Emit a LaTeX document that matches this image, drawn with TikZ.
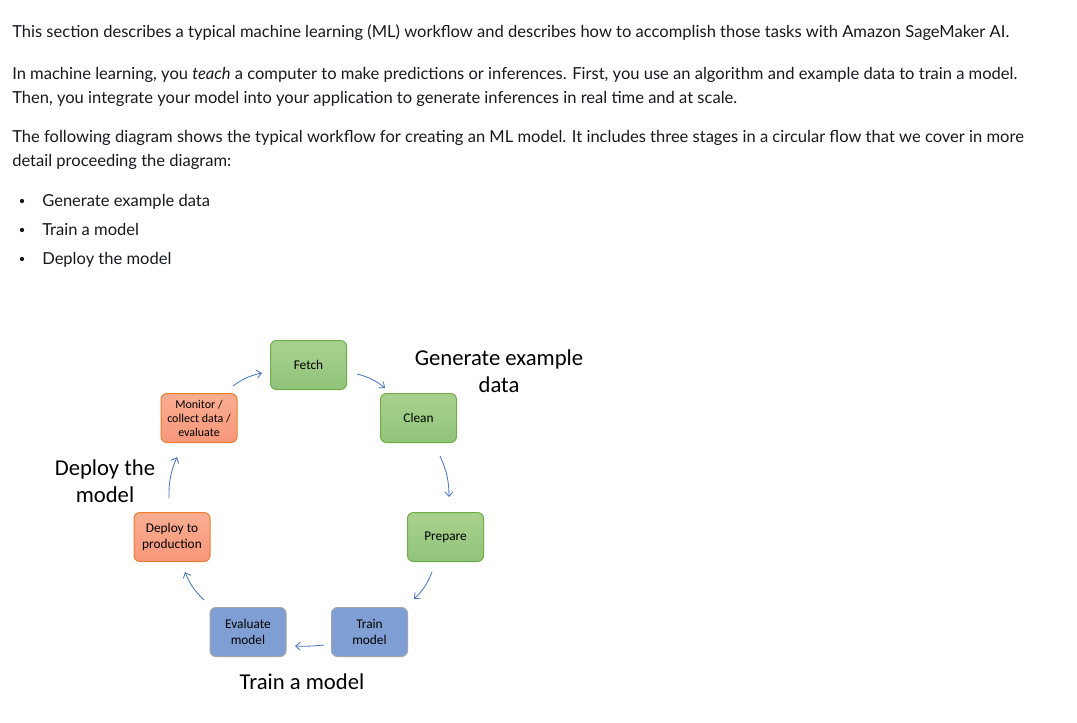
\documentclass[tikz,border=0pt]{standalone}
\usepackage{fontspec}
\setmainfont{Lato}
\newfontfamily\diagfont{Carlito}
\usetikzlibrary{arrows.meta,shapes.misc}
\definecolor{txt}{HTML}{16191F}
\definecolor{arrowblue}{HTML}{4472C4}
\definecolor{gtop}{HTML}{A9D18E}
\definecolor{gbot}{HTML}{90C47A}
\definecolor{gdraw}{HTML}{70AD47}
\definecolor{otop}{HTML}{F9AD91}
\definecolor{obot}{HTML}{F8977A}
\definecolor{odraw}{HTML}{ED7D31}
\definecolor{bfill}{HTML}{7F9FD4}
\definecolor{bdraw}{HTML}{A0A5AE}
\begin{document}
\begin{tikzpicture}[x=0.75pt,y=-0.75pt,
  para/.style={anchor=base west,inner sep=0pt,text=txt,font=\fontsize{12.4}{14}\selectfont},
  bulletdot/.style={circle,fill=txt,inner sep=0pt,minimum size=3.2pt},
  stepbox/.style={rounded corners=4.5pt,minimum width=57pt,minimum height=36.75pt,
    align=center,inner sep=1pt,font=\diagfont\fontsize{10}{11.5}\selectfont,text=black,line width=0.75pt},
  smalltext/.style={font=\diagfont\fontsize{9}{10.5}\selectfont},
  greenbox/.style={stepbox,draw=gdraw,top color=gtop,bottom color=gbot},
  orangebox/.style={stepbox,draw=odraw,top color=otop,bottom color=obot},
  bluebox/.style={stepbox,draw=bdraw,fill=bfill},
  stage/.style={align=center,font=\diagfont\fontsize{17}{20.5}\selectfont,text=black,inner sep=0pt},
  flow/.style={draw=arrowblue,line width=0.6pt,-{Straight Barb[length=3.5pt,width=6pt]},bend left=12}
]
\path[fill=white,use as bounding box] (0,0) rectangle (1077,722);

\node[para] (p1) at (12,37) {This section describes a typical machine learning (ML) workflow and describes how to accomplish those tasks with Amazon SageMaker AI.};
\node[para] (p2) at (12,79) {In machine learning, you \textit{teach} a computer to make predictions or inferences. First, you use an algorithm and example data to train a model.};
\node[para] (p3) at (12,103) {Then, you integrate your model into your application to generate inferences in real time and at scale.};
\node[para] (p4) at (12,142) {The following diagram shows the typical workflow for creating an ML model. It includes three stages in a circular flow that we cover in more};
\node[para] (p5) at (12,166) {detail proceeding the diagram:};
\node[bulletdot] (b1) at (22,201) {};
\node[para] (l1) at (42,206) {Generate example data};
\node[bulletdot] (b2) at (22,230) {};
\node[para] (l2) at (42,235) {Train a model};
\node[bulletdot] (b3) at (22,259) {};
\node[para] (l3) at (42,264) {Deploy the model};

\node[greenbox] (fetch) at (308.5,365) {Fetch};
\node[greenbox] (clean) at (418.5,418) {Clean};
\node[greenbox] (prep) at (445.5,537) {Prepare};
\node[bluebox] (train) at (369.5,632) {Train\\model};
\node[bluebox] (eval) at (248,632) {Evaluate\\model};
\node[orangebox] (dep) at (172,537) {Deploy to\\production};
\node[orangebox,smalltext] (mon) at (199,418) {Monitor /\\collect data /\\evaluate};

\node[stage] (sgen) at (499,371) {Generate example\\data};
\node[stage] (sdep) at (105,481) {Deploy the\\model};
\node[stage] (strain) at (302,682) {Train a model};

\draw[flow] ([shift={(34,-32)}]mon.center) to ([shift={(-46.5,8)}]fetch.center);
\draw[flow] ([shift={(48.5,9)}]fetch.center) to ([shift={(-33.5,-30)}]clean.center);
\draw[flow] ([shift={(21.5,38)}]clean.center) to ([shift={(3.5,-40)}]prep.center);
\draw[flow] ([shift={(-13.5,35)}]prep.center) to ([shift={(44.5,-33)}]train.center);
\draw[flow,bend left=4] ([shift={(-45.5,13)}]train.center) to ([shift={(47,14)}]eval.center);
\draw[flow] ([shift={(-44,-32)}]eval.center) to ([shift={(13,35)}]dep.center);
\draw[flow] ([shift={(-3,-39)}]dep.center) to ([shift={(-22,39)}]mon.center);
\end{tikzpicture}
\end{document}
